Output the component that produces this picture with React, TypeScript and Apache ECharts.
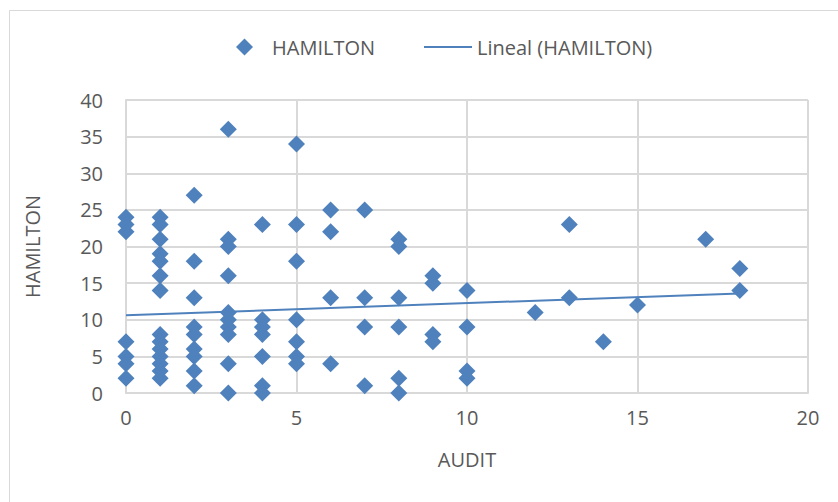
import React, { useEffect, useRef } from "react";
import * as echarts from "echarts";

const seriesName = "HAMILTON";
const trendName = "Lineal (HAMILTON)";
const xAxisTitle = "AUDIT";
const yAxisTitle = "HAMILTON";

// AUDIT values (x) and matching HAMILTON values (y)
const auditValues: number[] = [
  0, 0, 0, 0, 0, 0, 0,
  1, 1, 1, 1, 1, 1, 1, 1, 1, 1, 1, 1, 1, 1,
  2, 2, 2, 2, 2, 2, 2, 2, 2,
  3, 3, 3, 3, 3, 3, 3, 3, 3, 3,
  4, 4, 4, 4, 4, 4, 4,
  5, 5, 5, 5, 5, 5, 5,
  6, 6, 6, 6,
  7, 7, 7, 7,
  8, 8, 8, 8, 8, 8,
  9, 9, 9, 9,
  10, 10, 10, 10,
  12,
  13, 13,
  14,
  15,
  17,
  18, 18,
];
const hamiltonValues: number[] = [
  24, 23, 22, 7, 5, 4, 2,
  24, 23, 21, 19, 18, 16, 14, 8, 7, 6, 5, 4, 3, 2,
  27, 18, 13, 9, 8, 6, 5, 3, 1,
  36, 21, 20, 16, 11, 10, 9, 8, 4, 0,
  23, 10, 9, 8, 5, 1, 0,
  34, 23, 18, 10, 7, 5, 4,
  25, 22, 13, 4,
  25, 13, 9, 1,
  21, 20, 13, 9, 2, 0,
  16, 15, 8, 7,
  14, 9, 3, 2,
  11,
  23, 13,
  7,
  12,
  21,
  17, 14,
];

// Trend line endpoints
const trendX: number[] = [0, 18];
const trendY: number[] = [10.6, 13.6];

const BLUE = "#4f81bd";
const TEXT = "#595959";
const GRID = "#d9d9d9";
const FONT = "'Open Sans', sans-serif";

export default function App() {
  const ref = useRef<HTMLDivElement>(null);
  useEffect(() => {
    if (!ref.current) return;
    const chart = echarts.init(ref.current, null, { renderer: "svg" });
    const scatterData = auditValues.map((x, i) => [x, hamiltonValues[i]]);
    const trendData = trendX.map((x, i) => [x, trendY[i]]);
    chart.setOption({
      animation: false,
      backgroundColor: "#ffffff",
      textStyle: { fontFamily: FONT, color: TEXT },
      graphic: [
        {
          type: "rect",
          shape: { x: 9.5, y: 10.5, width: 840, height: 500 },
          style: { fill: "none", stroke: GRID, lineWidth: 1 },
          silent: true,
        },
      ],
      legend: [
        {
          data: [{ name: seriesName, icon: "diamond" }],
          left: 231,
          top: 32,
          itemWidth: 17,
          itemHeight: 17,
          itemStyle: { opacity: 1 },
          textStyle: { fontFamily: FONT, fontSize: 20, color: TEXT, padding: [0, 0, 0, 14] },
        },
        {
          data: [{ name: trendName, icon: "rect" }],
          left: 419,
          top: 32,
          itemWidth: 48,
          itemHeight: 2,
          itemStyle: { color: BLUE },
          lineStyle: { width: 0 },
          textStyle: { fontFamily: FONT, fontSize: 20, color: TEXT, padding: [0, 0, 0, 0] },
        },
      ],
      grid: { left: 126, right: 30, top: 100, bottom: 109, containLabel: false },
      xAxis: {
        type: "value",
        min: 0,
        max: 20,
        interval: 5,
        name: xAxisTitle,
        nameLocation: "middle",
        nameGap: 56,
        nameTextStyle: { fontFamily: FONT, fontSize: 20, color: TEXT },
        axisLine: { show: true, lineStyle: { color: GRID, width: 2 } },
        axisTick: { show: false },
        axisLabel: { fontFamily: FONT, fontSize: 20, color: TEXT, margin: 14 },
        splitLine: { show: true, lineStyle: { color: GRID, width: 2 } },
      },
      yAxis: {
        type: "value",
        min: 0,
        max: 40,
        interval: 5,
        name: yAxisTitle,
        nameLocation: "middle",
        nameGap: 84,
        nameTextStyle: { fontFamily: FONT, fontSize: 20, color: TEXT },
        axisLine: { show: true, lineStyle: { color: GRID, width: 2 } },
        axisTick: { show: false },
        axisLabel: { fontFamily: FONT, fontSize: 20, color: TEXT, margin: 23 },
        splitLine: { show: true, lineStyle: { color: GRID, width: 2 } },
      },
      series: [
        {
          name: seriesName,
          type: "scatter",
          symbol: "diamond",
          symbolSize: 17,
          itemStyle: { color: BLUE, opacity: 1 },
          data: scatterData,
          z: 3,
        },
        {
          name: trendName,
          type: "line",
          showSymbol: false,
          symbol: "none",
          lineStyle: { color: BLUE, width: 2 },
          itemStyle: { color: BLUE },
          data: trendData,
          z: 4,
        },
      ],
    });
    return () => chart.dispose();
  }, []);
  return (
    <div
      ref={ref}
      style={{ position: "fixed", left: 0, top: 0, width: 838, height: 502 }}
    />
  );
}
